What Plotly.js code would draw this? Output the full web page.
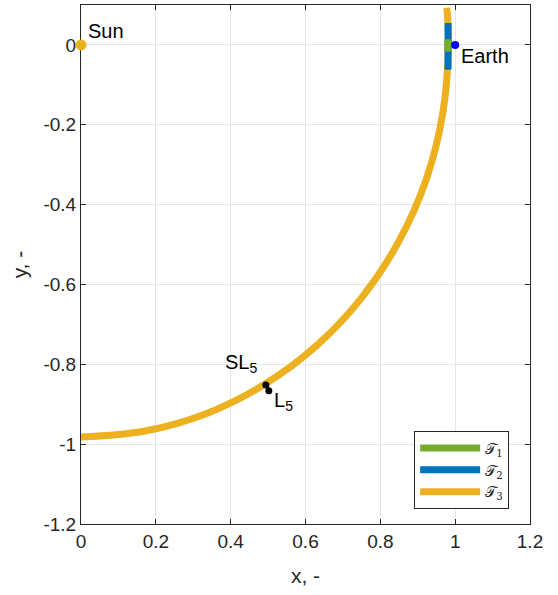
<!DOCTYPE html>
<html>
<head>
<meta charset="utf-8">
<script src="https://cdn.plot.ly/plotly-3.0.1.min.js"></script>
<style>html,body{margin:0;padding:0;background:#fff;}#chart{width:558px;height:595px;}</style>
</head>
<body>
<div id="chart"></div>
<script>
// Trajectory T3 (orange arc)
const t3x = [0.000, 0.171, 0.336, 0.491, 0.631, 0.752, 0.850, 0.923, 0.967, 0.982, 0.978];
const t3y = [-0.982, -0.967, -0.923, -0.850, -0.752, -0.631, -0.491, -0.336, -0.171, 0.000, 0.093];
// Trajectory T2 (blue segment near Earth)
const t2x = [0.981, 0.981];
const t2y = [-0.062, 0.055];
// Trajectory T1 (green segment near Earth)
const t1x = [0.980, 0.980];
const t1y = [-0.017, 0.014];
// Points
const sunX = [0], sunY = [0];
const earthX = [1], earthY = [0];
const sl5X = [0.494], sl5Y = [-0.852];
const l5X = [0.502], l5Y = [-0.866];
const xTicks = [0, 0.2, 0.4, 0.6, 0.8, 1, 1.2];
const yTicks = [-1.2, -1, -0.8, -0.6, -0.4, -0.2, 0];

const green = '#77AC30', blue = '#0072BD', orange = '#EDB120';
const fnt = 'Liberation Sans, Arial, sans-serif';
const ink = '#262626';

const traces = [
  {x: t3x, y: t3y, mode: 'lines', line: {color: orange, width: 7, shape: 'spline'}, name: '𝒯<sub>3</sub>', legendrank: 3},
  {x: t2x, y: t2y, mode: 'lines', line: {color: blue, width: 7}, name: '𝒯<sub>2</sub>', legendrank: 2},
  {x: t1x, y: t1y, mode: 'lines', line: {color: green, width: 7}, name: '𝒯<sub>1</sub>', legendrank: 1},
  {x: sunX, y: sunY, mode: 'markers', marker: {color: orange, size: 11}, showlegend: false, cliponaxis: false},
  {x: earthX, y: earthY, mode: 'markers', marker: {color: '#0000FF', size: 8}, showlegend: false, cliponaxis: false},
  {x: sl5X.concat(l5X), y: sl5Y.concat(l5Y), mode: 'markers', marker: {color: '#000', size: 7}, showlegend: false}
];

const axisCommon = {
  showgrid: true, gridcolor: '#E6E6E6', gridwidth: 1, layer: 'below traces',
  zeroline: false, showline: true, linecolor: ink, linewidth: 1, mirror: 'ticks',
  ticks: 'inside', ticklen: 5, tickcolor: ink,
  tickfont: {family: fnt, size: 19, color: ink}
};

const layout = {
  width: 558, height: 595,
  margin: {l: 81, r: 28, t: 5, b: 71},
  paper_bgcolor: '#fff', plot_bgcolor: '#fff',
  xaxis: Object.assign({}, axisCommon, {range: [0, 1.2], tickvals: xTicks, ticktext: xTicks.map(String),
    title: {text: 'x, -', font: {family: fnt, size: 21, color: ink}, standoff: 17}}),
  yaxis: Object.assign({}, axisCommon, {range: [-1.2, 0.1], tickvals: yTicks, ticktext: yTicks.map(String),
    title: {text: 'y, -', font: {family: fnt, size: 21, color: ink}, standoff: 10}}),
  showlegend: true,
  legend: {x: 0.742, y: 0.179, xanchor: 'left', yanchor: 'top', bgcolor: '#fff',
    bordercolor: ink, borderwidth: 1, font: {family: 'DejaVu Serif, serif', size: 14.5, color: ink},
    traceorder: 'normal', tracegroupgap: 0, itemwidth: 60},
  annotations: [
    {x: 0, y: 0, xref: 'x', yref: 'y', text: 'Sun', showarrow: false, xanchor: 'left', yanchor: 'middle', xshift: 5, yshift: 14, font: {family: fnt, size: 20, color: '#000'}},
    {x: 1, y: 0, xref: 'x', yref: 'y', text: 'Earth', showarrow: false, xanchor: 'left', yanchor: 'middle', xshift: 4, yshift: -11, font: {family: fnt, size: 20, color: '#000'}},
    {x: sl5X[0], y: sl5Y[0], xref: 'x', yref: 'y', text: 'SL<sub>5</sub>', showarrow: false, xanchor: 'right', yanchor: 'middle', xshift: -7, yshift: 22, font: {family: fnt, size: 20, color: '#000'}},
    {x: l5X[0], y: l5Y[0], xref: 'x', yref: 'y', text: 'L<sub>5</sub>', showarrow: false, xanchor: 'left', yanchor: 'middle', xshift: 3, yshift: -11, font: {family: fnt, size: 20, color: '#000'}}
  ]
};

Plotly.newPlot('chart', traces, layout, {displayModeBar: false, staticPlot: true});
</script>
</body>
</html>
